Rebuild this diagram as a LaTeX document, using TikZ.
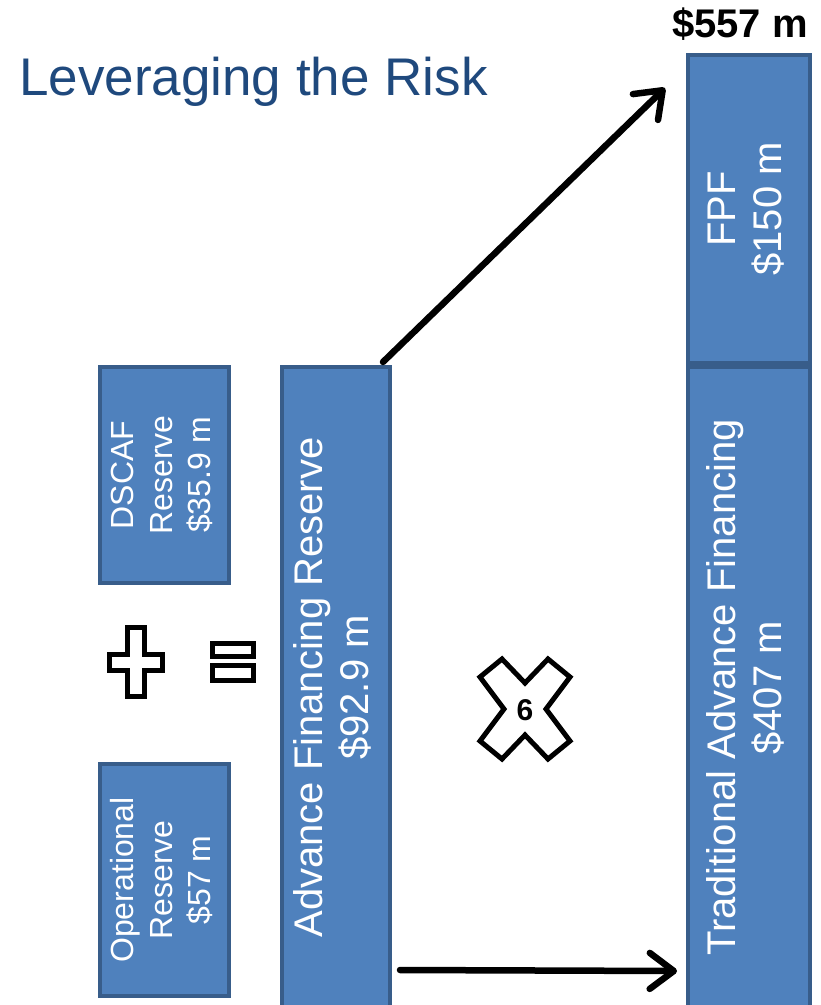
\documentclass[tikz,border=0pt]{standalone}
\usepackage{fontspec}
\setmainfont{Liberation Sans}
\usepackage{tikz}
\usetikzlibrary{arrows.meta}
\definecolor{boxfill}{HTML}{4F81BD}
\definecolor{boxline}{HTML}{385D8A}
\definecolor{titleblue}{HTML}{1F497D}
\tikzstyle{box} = [draw=boxline,fill=boxfill,line width=4pt,inner sep=0pt,text=white]
\tikzstyle{arrow} = [line width=6.5pt,line cap=round,-{Straight Barb[length=24pt,width=36pt,line cap=round,line join=round]}]
\tikzstyle{sign} = [draw=black,line width=5pt,fill=white]
\newcommand{\vlab}[1]{\rotatebox{90}{\begin{tabular}{@{}c@{}}#1\end{tabular}}}
\newcommand{\smallfont}{\fontsize{32}{38.4}\selectfont}
\newcommand{\bigfont}{\fontsize{40}{46}\selectfont}

\begin{document}
\begin{tikzpicture}[x=1pt,y=-1pt]
  \useasboundingbox (0,0) rectangle (821,1005);
  \clip (0,0) rectangle (821,1005);
  \node[anchor=base west,text=titleblue,font=\fontsize{53}{60}\selectfont,inner sep=0pt] (title) at (19,95) {Leveraging the Risk};
  % reserves on the left
  \node[box,minimum width=129pt,minimum height=216pt,font=\smallfont] (dscaf) at (164.5,475) {\vlab{DSCAF\\Reserve\\\$35.9 m}};
  \node[box,minimum width=129pt,minimum height=232pt,font=\smallfont] (oper) at (164.5,880) {\vlab{Operational\\Reserve\\\$57 m}};
  \node[box,minimum width=108pt,minimum height=641pt,font=\bigfont] (afr) at (336,687.5) {\vlab{Advance Financing Reserve\\\$92.9 m}};
  % financing on the right
  \node[box,minimum width=122pt,minimum height=308pt,font=\bigfont] (fpf) at (749,209) {\vlab{FPF\\\$150 m}};
  \node[box,minimum width=122pt,minimum height=641pt,font=\bigfont] (trad) at (749,687.5) {\vlab{Traditional Advance Financing\\\$407 m}};
  \node[font=\bfseries\fontsize{40}{46}\selectfont,inner sep=0pt] (total) at (740,24) {\$557 m};
  % plus, equals, times
  \draw[sign] (127.5,627.5) -- (144.5,627.5) -- (144.5,654.5) -- (162.5,654.5) -- (162.5,670.5) -- (144.5,670.5) -- (144.5,696.5) -- (127.5,696.5) -- (127.5,670.5) -- (109.5,670.5) -- (109.5,654.5) -- (127.5,654.5) -- cycle;
  \draw[sign] (212.5,643.5) rectangle (253.5,656);
  \draw[sign] (212.5,665) rectangle (253.5,680.5);
  \draw[sign] (480,677) -- (502,659) -- (525,683) -- (548,659) -- (570,677) -- (546,709) -- (570,741) -- (548,759) -- (525,735) -- (502,759) -- (480,741) -- (504,709) -- cycle;
  \node[font=\bfseries\fontsize{30}{34}\selectfont] (six) at (525,710) {6};
  % arrows
  \draw[arrow] ([xshift=-9pt,yshift=3pt]afr.north east) -- ([xshift=-21pt,yshift=-35pt]fpf.north west);
  \draw[arrow] ([xshift=8pt,yshift=40pt]afr.south east) -- ([xshift=-9pt,yshift=39pt]trad.south west);
\end{tikzpicture}
\end{document}
